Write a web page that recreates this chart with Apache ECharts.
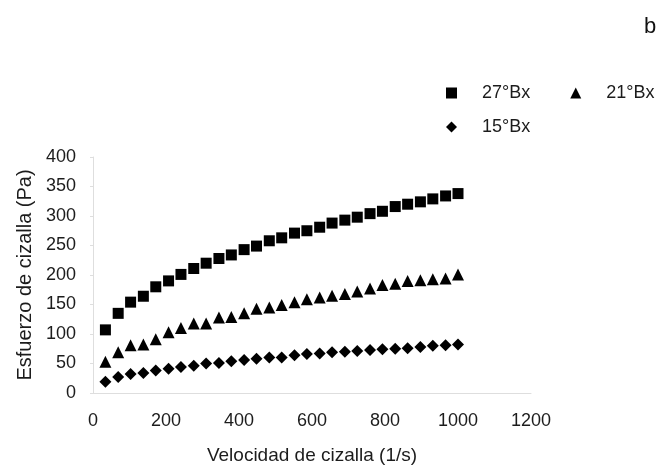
<!DOCTYPE html>
<html>
<head>
<meta charset="utf-8">
<script src="https://cdn.jsdelivr.net/npm/echarts@6/dist/echarts.min.js"></script>
<style>
  html, body { margin: 0; padding: 0; background: #fff; }
  #chart { width: 658px; height: 476px; }
</style>
</head>
<body>
<div id="chart"></div>
<script>
// Shear rate (1/s) for each measurement
var shearRate = [34, 69, 103, 138, 172, 207, 241, 276, 310, 345, 379, 414, 448, 483, 517,
                 552, 586, 621, 655, 690, 724, 759, 793, 828, 862, 897, 931, 966, 1000];

// Shear stress (Pa) per sample concentration
var stress27 = [107, 135, 154, 164, 180, 190, 201, 211, 220, 228, 234, 243, 249, 258, 263,
                271, 275, 281, 288, 293, 298, 304, 308, 316, 320, 324, 329, 334, 338];
var stress21 = [53, 69, 81, 82, 91, 103, 110, 118, 118, 128, 129, 135, 143, 145, 149,
                154, 159, 162, 165, 168, 172, 177, 183, 185, 190, 191, 193, 194, 201];
var stress15 = [19, 27, 32, 34, 38, 41, 44, 46, 50, 51, 54, 56, 58, 60, 60,
                64, 66, 67, 69, 70, 71, 73, 74, 75, 76, 78, 80, 81, 82];

var xTicks = { min: 0, max: 1200, interval: 200 };
var yTicks = { min: 0, max: 400, interval: 50 };

function pairs(xs, ys) {
  return xs.map(function (x, i) { return [x, ys[i]]; });
}
function plain(v) { return String(v); }

var textColor = '#1c1c1c';
var font = 'Liberation Sans, Arial, sans-serif';
var faint = '#dedede';
var legendText = { fontSize: 18, color: textColor, fontFamily: font, padding: [0, 0, 0, 20] };

var chart = echarts.init(document.getElementById('chart'), null, { renderer: 'canvas' });
chart.setOption({
  backgroundColor: '#fff',
  animation: false,
  textStyle: { fontFamily: font, color: textColor },
  grid: { left: 93, right: 127, top: 157, bottom: 83 },
  legend: [
    {
      data: ['27°Bx', '21°Bx'],
      left: 446, top: 84, padding: 0,
      itemWidth: 11, itemHeight: 11, itemGap: 40,
      textStyle: legendText
    },
    {
      data: ['15°Bx'],
      left: 446, top: 118, padding: 0,
      itemWidth: 11, itemHeight: 11,
      textStyle: legendText
    }
  ],
  xAxis: {
    type: 'value',
    min: xTicks.min, max: xTicks.max, interval: xTicks.interval,
    name: 'Velocidad de cizalla (1/s)',
    nameLocation: 'middle', nameGap: 53,
    nameTextStyle: { fontSize: 19, color: textColor, fontFamily: font },
    axisLine: { show: true, lineStyle: { color: faint, width: 1 } },
    axisTick: { show: false },
    splitLine: { show: false },
    axisLabel: { fontSize: 18, color: textColor, margin: 19, fontFamily: font, formatter: plain }
  },
  yAxis: {
    type: 'value',
    min: yTicks.min, max: yTicks.max, interval: yTicks.interval,
    name: 'Esfuerzo de cizalla (Pa)',
    nameLocation: 'middle', nameGap: 54, nameRotate: 90,
    nameTextStyle: { fontSize: 20, color: textColor, fontFamily: font },
    axisLine: { show: true, lineStyle: { color: faint, width: 1 } },
    axisTick: { show: true, length: 3, lineStyle: { color: faint } },
    splitLine: { show: false },
    axisLabel: { fontSize: 18, color: textColor, margin: 17, fontFamily: font, formatter: plain }
  },
  series: [
    {
      name: '27°Bx', type: 'scatter', symbol: 'rect', symbolSize: 11,
      itemStyle: { color: '#000', opacity: 1 },
      data: pairs(shearRate, stress27)
    },
    {
      name: '21°Bx', type: 'scatter', symbol: 'triangle', symbolSize: 12,
      itemStyle: { color: '#000', opacity: 1 },
      data: pairs(shearRate, stress21)
    },
    {
      name: '15°Bx', type: 'scatter', symbol: 'diamond', symbolSize: 12,
      itemStyle: { color: '#000', opacity: 1 },
      data: pairs(shearRate, stress15)
    }
  ],
  graphic: [
    {
      type: 'text', left: 644, top: 16,
      style: { text: 'b', fontSize: 22, fill: '#111', fontFamily: font }
    }
  ]
});
</script>
</body>
</html>
